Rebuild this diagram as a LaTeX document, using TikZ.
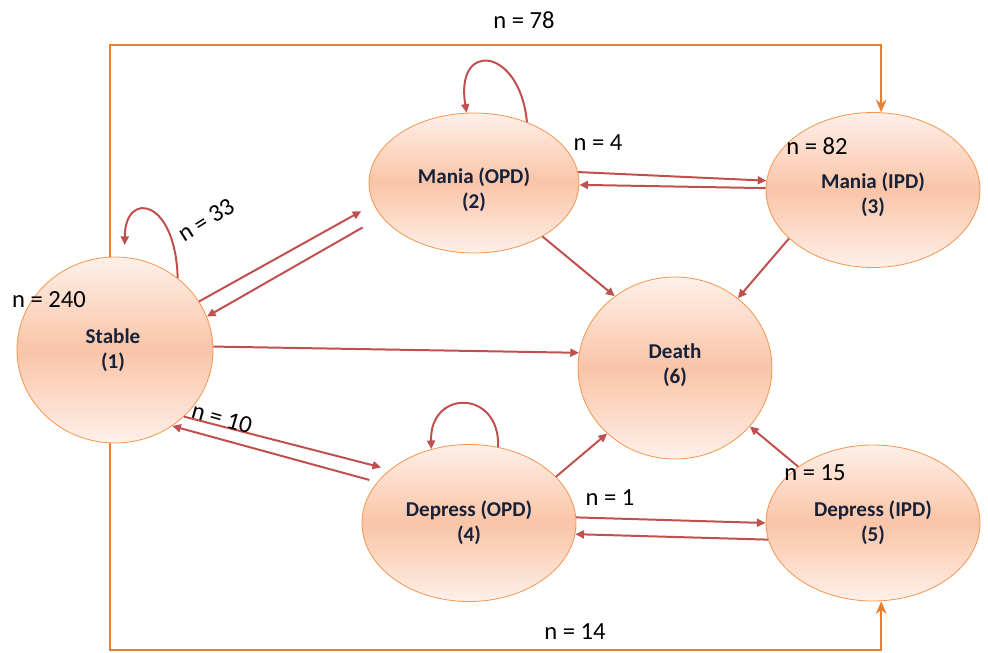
\documentclass[tikz,border=0pt]{standalone}
\usepackage{fontspec}
\setmainfont{Carlito}
\usetikzlibrary{arrows.meta,shapes.geometric}

\definecolor{statefill}{RGB}{250,196,167}
\definecolor{statelight}{RGB}{254,240,233}
\definecolor{stateedge}{RGB}{246,150,80}
\definecolor{flowred}{RGB}{192,80,77}
\definecolor{flowor}{RGB}{237,125,49}
\definecolor{statetext}{RGB}{23,33,55}

\tikzset{
  state/.style={ellipse, draw=stateedge, line width=0.7pt, inner sep=0pt,
    top color=statelight, bottom color=statelight, middle color=statefill},
  statename/.style={text=statetext, align=center, inner sep=0pt,
    font=\bfseries\fontsize{18}{21}\selectfont},
  flow/.style={draw=flowred, line width=1.7pt,
    -{Triangle[length=2.6mm,width=2.4mm]}},
  longflow/.style={draw=flowor, line width=2pt,
    -{Stealth[length=3.8mm,width=3.2mm,inset=1.2mm]}},
  lbl/.style={font=\fontsize{21}{25}\selectfont, inner sep=0pt}
}

\begin{document}
\begin{tikzpicture}[x=0.03cm, y=-0.03cm]
\useasboundingbox (0,0) rectangle (988,653);

% states
\node[state, minimum width=5.88cm, minimum height=5.58cm] (S)  at (115,350) {};
\node[state, minimum width=6.3cm,  minimum height=4.2cm]  (MO) at (474,183) {};
\node[state, minimum width=6.42cm, minimum height=4.65cm] (MI) at (873,190) {};
\node[state, minimum width=5.82cm, minimum height=5.46cm] (D)  at (675,368) {};
\node[state, minimum width=6.42cm, minimum height=4.71cm] (DO) at (469,523) {};
\node[state, minimum width=6.42cm, minimum height=4.68cm] (DI) at (873,523) {};

% state names
\node[statename] (St)  at (113,350) {Stable\\(1)};
\node[statename] (MOt) at (474,190) {Mania (OPD)\\(2)};
\node[statename] (MIt) at (873,195) {Mania (IPD)\\(3)};
\node[statename] (Dt)  at (675,365) {Death\\(6)};
\node[statename] (DOt) at (469,523) {Depress (OPD)\\(4)};
\node[statename] (DIt) at (873,523) {Depress (IPD)\\(5)};

% long routes around the diagram
\draw[longflow] (S.93) -- ++(0,-212) -| (MI.84);
\draw[longflow] (S.-93) -- ++(0,207) -| (DI.-84);

% transitions
\draw[flow, shorten >=4.2mm] (S.30) -- (MO.192);
\draw[flow, shorten <=6.5mm] (MO.200) -- (S.20);
\draw[flow] (S.2) -- (D.171);
\draw[flow, shorten >=2.7mm] (S.-44) -- (DO.146);
\draw[flow, shorten <=2.4mm] (DO.156) -- (S.-53);
\draw[flow] (MO.6) -- (MI.175);
\draw[flow] (MI.179) -- (MO.-1);
\draw[flow] (MO.-38) -- (D.130);
\draw[flow] (MI.-150) -- (D.48);
\draw[flow] (DO.28) -- (D.-136);
\draw[flow] (DO.3) -- (DI.180);
\draw[flow] (DI.189) -- (DO.-6);
\draw[flow] (DI.143) -- (D.-38);

% self loops
\draw[flow, shorten >=3.6mm] (S.49) .. controls +(-2,-80) and +(0,-67) .. (S.84);
\draw[flow] (MO.49) .. controls +(-7,-75) and +(-12,-73) .. (MO.96);
\draw[flow] (DO.69) .. controls +(2,-58) and +(-2,-60) .. (DO.117);

% counts
\node[lbl] (n78)  at (524,20)  {n = 78};
\node[lbl] (n4)   at (598,143) {n = 4};
\node[lbl] (n82)  at (817,146) {n = 82};
\node[lbl, rotate=32] (n33) at (206,220) {n = 33};
\node[lbl] (n240) at (49,300)  {n = 240};
\node[lbl, rotate=-16] (n10) at (222,418) {n = 10};
\node[lbl] (n1)   at (610,498) {n = 1};
\node[lbl] (n15)  at (815,473) {n = 15};
\node[lbl] (n14)  at (575,632) {n = 14};
\end{tikzpicture}
\end{document}
